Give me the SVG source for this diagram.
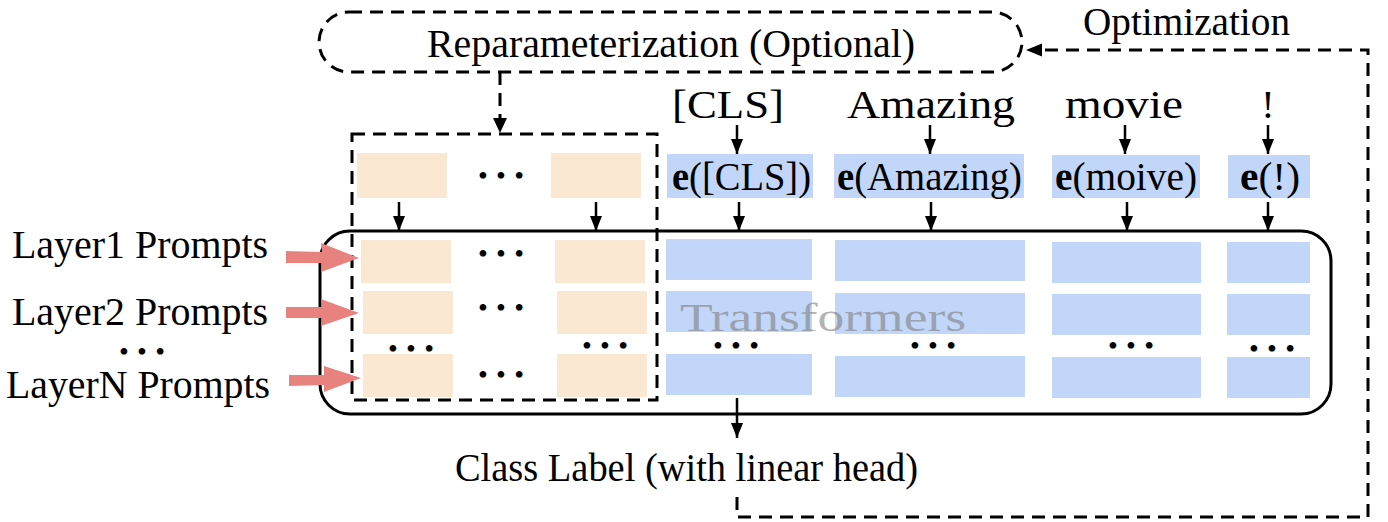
<svg xmlns="http://www.w3.org/2000/svg" width="1388" height="522" viewBox="0 0 1388 522">
<defs>
<marker id="ah" markerWidth="15" markerHeight="13" refX="15" refY="6.5" orient="auto" markerUnits="userSpaceOnUse"><path d="M0,0.5 L15,6.5 L0,12.5 z" fill="#000"/></marker>
<style>
text{font-family:"Liberation Serif","Times New Roman",serif;fill:#000;font-size:40px}
.pe{fill:#FAE8D2}
.bl{fill:#C1D6F8}
.dash{fill:none;stroke:#000;stroke-width:3;stroke-dasharray:13 8}
.ar{stroke:#000;stroke-width:2.5;fill:none;marker-end:url(#ah)}
.pk{fill:#E8827F}
.dots{font-size:28px}
</style>
</defs>
<rect width="1388" height="522" fill="#fff"/>

<g id="reparam">
<rect class="dash" x="319" y="12" width="703" height="60" rx="30"/>
<text x="427" y="57" textLength="488" lengthAdjust="spacingAndGlyphs">Reparameterization (Optional)</text>
</g>

<g id="optimization-label">
<text x="1083" y="35" textLength="207" lengthAdjust="spacingAndGlyphs" font-size="38">Optimization</text>
</g>

<g id="prompt-block">
<rect class="dash" x="352" y="134" width="305" height="266"/>
<rect class="pe" x="357" y="153" width="90" height="45"/>
<rect class="pe" x="551" y="153" width="90" height="45"/>
<text class="dots" x="478" y="185" textLength="46" lengthAdjust="spacing">•••</text>
</g>

<g id="tokens">
<text x="672" y="118" font-size="41" textLength="112" lengthAdjust="spacingAndGlyphs">[CLS]</text>
<text x="847" y="118" font-size="41" textLength="168" lengthAdjust="spacingAndGlyphs">Amazing</text>
<text x="1065" y="118" font-size="41" textLength="118" lengthAdjust="spacingAndGlyphs">movie</text>
<text x="1268" y="118" font-size="41" text-anchor="middle">!</text>
</g>

<g id="embeddings">
<rect class="bl" x="667" y="154" width="146" height="44"/>
<rect class="bl" x="834" y="154" width="190" height="44"/>
<rect class="bl" x="1052" y="155" width="148" height="43"/>
<rect class="bl" x="1228" y="155" width="82" height="43"/>
<text x="672" y="190" font-size="41" textLength="139" lengthAdjust="spacingAndGlyphs"><tspan font-weight="bold">e</tspan>([CLS])</text>
<text x="837" y="190" font-size="41" textLength="185" lengthAdjust="spacingAndGlyphs"><tspan font-weight="bold">e</tspan>(Amazing)</text>
<text x="1055" y="190" font-size="41" textLength="142" lengthAdjust="spacingAndGlyphs"><tspan font-weight="bold">e</tspan>(moive)</text>
<text x="1240" y="190" font-size="41" textLength="60" lengthAdjust="spacingAndGlyphs"><tspan font-weight="bold">e</tspan>(!)</text>
</g>

<g id="transformers">
<rect x="320" y="231" width="1011" height="183" rx="30" fill="none" stroke="#000" stroke-width="3"/>
<rect class="pe" x="361" y="240" width="90" height="43"/>
<rect class="pe" x="555" y="240" width="90" height="43"/>
<rect class="pe" x="363" y="291" width="90" height="43"/>
<rect class="pe" x="557" y="291" width="90" height="43"/>
<rect class="pe" x="363" y="354" width="90" height="43"/>
<rect class="pe" x="557" y="354" width="90" height="43"/>
<text class="dots" x="478" y="263" textLength="46" lengthAdjust="spacing">•••</text>
<text class="dots" x="478" y="317" textLength="46" lengthAdjust="spacing">•••</text>
<text class="dots" x="388" y="358" textLength="46" lengthAdjust="spacing">•••</text>
<text class="dots" x="582" y="355" textLength="46" lengthAdjust="spacing">•••</text>
<text class="dots" x="478" y="384" textLength="46" lengthAdjust="spacing">•••</text>

<rect class="bl" x="666" y="239" width="146" height="41"/>
<rect class="bl" x="666" y="291" width="146" height="41"/>
<rect class="bl" x="666" y="354" width="146" height="41"/>
<rect class="bl" x="835" y="240" width="190" height="41"/>
<rect class="bl" x="835" y="293" width="190" height="41"/>
<rect class="bl" x="835" y="356" width="190" height="41"/>
<rect class="bl" x="1052" y="242" width="149" height="41"/>
<rect class="bl" x="1052" y="294" width="149" height="41"/>
<rect class="bl" x="1052" y="357" width="149" height="41"/>
<rect class="bl" x="1227" y="242" width="83" height="41"/>
<rect class="bl" x="1227" y="294" width="83" height="41"/>
<rect class="bl" x="1227" y="357" width="83" height="41"/>
<text class="dots" x="713" y="355" textLength="46" lengthAdjust="spacing">•••</text>
<text class="dots" x="910" y="355" textLength="46" lengthAdjust="spacing">•••</text>
<text class="dots" x="1108" y="355" textLength="46" lengthAdjust="spacing">•••</text>
<text class="dots" x="1249" y="358" textLength="46" lengthAdjust="spacing">•••</text>
<text x="680" y="331" font-size="48" textLength="286" lengthAdjust="spacingAndGlyphs" style="fill:#808080" fill-opacity="0.62">Transformers</text>
</g>

<g id="layer-labels">
<text x="12" y="258" textLength="256" lengthAdjust="spacingAndGlyphs">Layer1 Prompts</text>
<text x="12" y="325" textLength="256" lengthAdjust="spacingAndGlyphs">Layer2 Prompts</text>
<text class="dots" x="119" y="361" textLength="46" lengthAdjust="spacing">•••</text>
<text x="6" y="398" textLength="264" lengthAdjust="spacingAndGlyphs">LayerN Prompts</text>
</g>

<g id="class-label">
<text x="455" y="481" font-size="42" textLength="463" lengthAdjust="spacingAndGlyphs">Class Label (with linear head)</text>
</g>

<g id="connectors">
<line class="ar" x1="737" y1="125" x2="737" y2="154"/>
<line class="ar" x1="930" y1="125" x2="930" y2="154"/>
<line class="ar" x1="1125" y1="125" x2="1125" y2="154"/>
<line class="ar" x1="1268" y1="125" x2="1268" y2="154"/>
<line class="ar" x1="399" y1="202" x2="399" y2="231"/>
<line class="ar" x1="596" y1="202" x2="596" y2="231"/>
<line class="ar" x1="739" y1="202" x2="739" y2="231"/>
<line class="ar" x1="931" y1="202" x2="931" y2="231"/>
<line class="ar" x1="1127" y1="202" x2="1127" y2="231"/>
<line class="ar" x1="1268" y1="202" x2="1268" y2="231"/>
<line class="ar" x1="737" y1="398" x2="737" y2="438"/>
<line x1="500" y1="72" x2="500" y2="118" class="dash"/>
<path d="M493,118 L507,118 L500,133 z" fill="#000"/>
<polyline class="dash" points="737,497 737,517 1368,517 1368,50 1041,50"/>
<path d="M1026,50 L1042,43.5 L1042,56.5 z" fill="#000"/>
<path class="pk" d="M286,251 L322,252 L321,243 L359,258 L321,272 L322,263 L286,263 z"/>
<path class="pk" d="M286,307 L322,307 L321,299 L359,313 L321,326 L322,318 L286,318 z"/>
<path class="pk" d="M289,375 L324,375 L324,366 L361,378 L324,392 L324,385 L289,386 z"/>
</g>
</svg>
